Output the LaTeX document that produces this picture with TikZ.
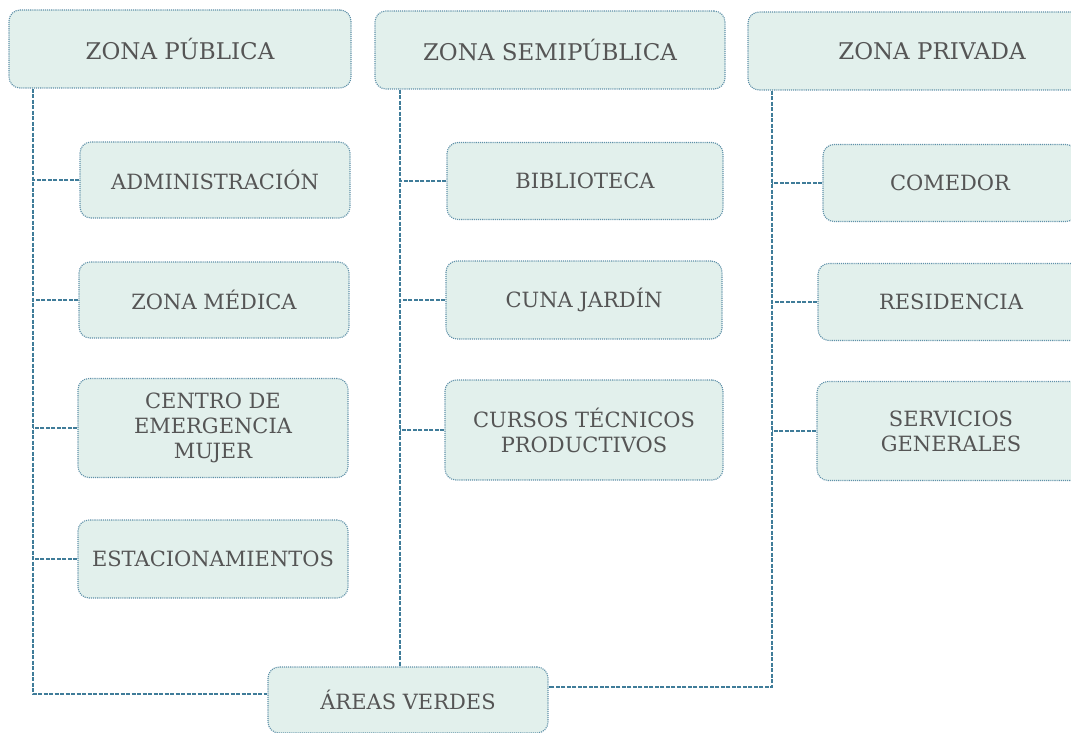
\documentclass[tikz,border=0pt]{standalone}
\usepackage{fontspec}
\setmainfont{DejaVu Serif}
\definecolor{mint}{HTML}{E2F0EC}
\definecolor{bord}{HTML}{5E90A8}
\definecolor{conn}{HTML}{3F7C99}
\definecolor{txt}{HTML}{555555}
\tikzset{
  zbox/.style={draw=bord, fill=mint, rounded corners=11pt, densely dotted, line width=1.1pt,
    text=txt, align=center, inner sep=2pt},
  title/.style={zbox, font=\fontsize{23}{27}\selectfont},
  item/.style={zbox, font=\fontsize{21}{25}\selectfont},
  link/.style={draw=conn, line width=1.2pt, dash pattern=on 4pt off 1.5pt}
}
\begin{document}
\begin{tikzpicture}[x=1pt,y=-1pt]
\useasboundingbox (0,0) rectangle (1071,733);
\clip (0,0) rectangle (1071,733);
% zones
\node[title, minimum width=342pt, minimum height=78pt] (zp) at (180,49) {ZONA PÚBLICA};
\node[title, minimum width=350pt, minimum height=78pt] (zs) at (550,50) {ZONA SEMIPÚBLICA};
\node[title, minimum width=368pt, minimum height=78pt] (zv) at (932,51) {ZONA PRIVADA};
% left column
\node[item, minimum width=270pt, minimum height=76pt] (adm) at (215,180) {ADMINISTRACIÓN};
\node[item, minimum width=270pt, minimum height=76pt] (med) at (214,300) {ZONA MÉDICA};
\node[item, minimum width=270pt, minimum height=99pt] (cem) at (213,428) {CENTRO DE\\EMERGENCIA\\MUJER};
\node[item, minimum width=270pt, minimum height=78pt] (est) at (213,559) {ESTACIONAMIENTOS};
% middle column
\node[item, minimum width=276pt, minimum height=77pt] (bib) at (585,181) {BIBLIOTECA};
\node[item, minimum width=276pt, minimum height=78pt] (cuna) at (584,300) {CUNA JARDÍN};
\node[item, minimum width=278pt, minimum height=100pt] (cur) at (584,430) {CURSOS TÉCNICOS\\PRODUCTIVOS};
% right column
\node[item, minimum width=254pt, minimum height=77pt] (com) at (950,183) {COMEDOR};
\node[item, minimum width=266pt, minimum height=77pt] (res) at (951,302) {RESIDENCIA};
\node[item, minimum width=268pt, minimum height=99pt] (ser) at (951,431) {SERVICIOS\\GENERALES};
% bottom
\node[item, minimum width=280pt, minimum height=66pt] (av) at (408,700) {ÁREAS VERDES};
% trunks
\coordinate (t1) at (33,694);
\coordinate (t2) at (400,0);
\coordinate (t3) at (772,687);
\draw[link] (zp.south -| t1) -- (t1) -- (t1 -| av.west);
\draw[link] (zs.south -| t2) -- (av.north -| t2);
\draw[link] (zv.south -| t3) -- (t3) -- (t3 -| av.east);
% branches
\foreach \n in {adm,med,cem,est} \draw[link] (\n.west) -- (\n.west -| t1);
\foreach \n in {bib,cuna,cur} \draw[link] (\n.west) -- (\n.west -| t2);
\foreach \n in {com,res,ser} \draw[link] (\n.west) -- (\n.west -| t3);
\end{tikzpicture}
\end{document}
